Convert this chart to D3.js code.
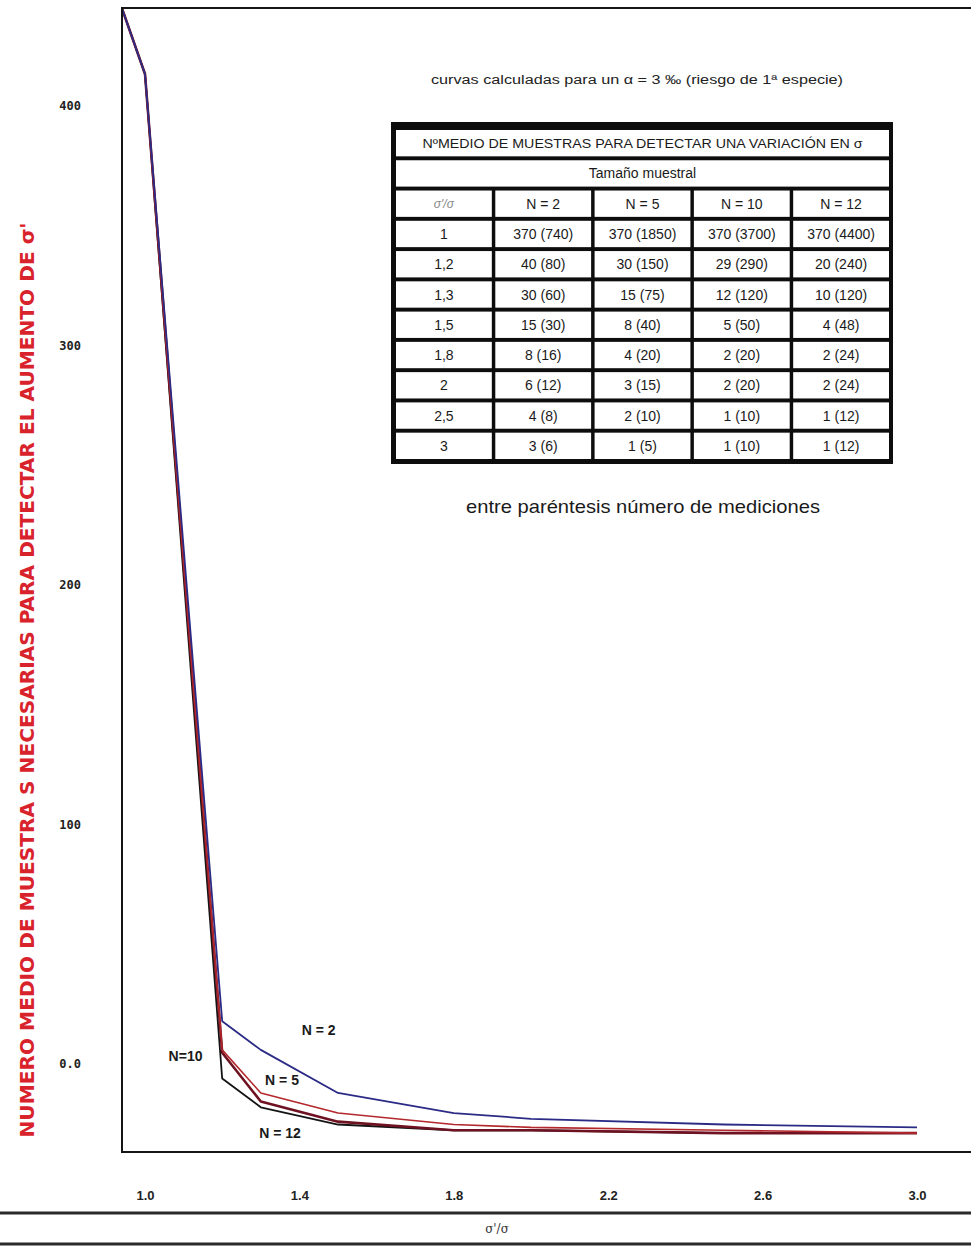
<!DOCTYPE html>
<html>
<head>
<meta charset="utf-8">
<script src="https://cdn.jsdelivr.net/npm/d3@7"></script>
<style>
  body { margin: 0; background: #fff; }
  svg { display: block; }
</style>
</head>
<body>
<div class="chart"></div>
<script>
// table rows (sigma'/sigma) and the four sample sizes
const ratios = [1, 1.2, 1.3, 1.5, 1.8, 2, 2.5, 3]
const ratioLabels = ["1", "1,2", "1,3", "1,5", "1,8", "2", "2,5", "3"]
const sampleSizes = [2, 5, 10, 12]

// mean number of samples
const samplesN2 = [370, 40, 30, 15, 8, 6, 4, 3]
const samplesN5 = [370, 30, 15, 8, 4, 3, 2, 1]
const samplesN10 = [370, 29, 12, 5, 2, 2, 1, 1]
const samplesN12 = [370, 20, 10, 4, 2, 2, 1, 1]

// number of measurements (in brackets)
const measN2 = [740, 80, 60, 30, 16, 12, 8, 6]
const measN5 = [1850, 150, 75, 40, 20, 15, 10, 5]
const measN10 = [3700, 290, 120, 50, 20, 20, 10, 10]
const measN12 = [4400, 240, 120, 48, 24, 24, 12, 12]

// the curves leave the frame at the top-left corner
const curveStartRatio = 0.94
const curveStartValue = 393

const xTicks = [1.0, 1.4, 1.8, 2.2, 2.6, 3.0]
const yTickLabels = [400, 300, 200, 100, 0]

const width = 971
const height = 1247

const series = [
  {n: 12, values: samplesN12, color: "#141414", w: 1.8},
  {n: 10, values: samplesN10, color: "#6e1222", w: 2.6},
  {n: 5, values: samplesN5, color: "#b3282c", w: 1.6},
  {n: 2, values: samplesN2, color: "#2b2b86", w: 1.8}
]
const measures = {2: measN2, 5: measN5, 10: measN10, 12: measN12}
const samples = {2: samplesN2, 5: samplesN5, 10: samplesN10, 12: samplesN12}

const svg = d3.select(".chart").append("svg")
  .attr("width", width)
  .attr("height", height)
  .attr("viewBox", [0, 0, width, height])

let x = d3.scaleLinear()
  .domain([1, 3])
  .range([145, 917])

let y = d3.scaleLinear()
  .domain([0, 370])
  .range([1136, 74])

// the printed y labels don't share the curves' scale
let yLabel = d3.scaleLinear()
  .domain([0, 400])
  .range([1064, 106])

// frame
svg.append("rect")
  .attr("x", 122).attr("y", 8)
  .attr("width", 870).attr("height", 1144)
  .attr("fill", "none")
  .attr("stroke", "#151515")
  .attr("stroke-width", 2)

svg.append("defs").append("clipPath").attr("id", "plot")
  .append("rect").attr("x", 123).attr("y", 9).attr("width", 860).attr("height", 1142)

let line = d3.line()
  .x(d => x(d[0]))
  .y(d => y(d[1]))

svg.append("g")
    .attr("clip-path", "url(#plot)")
    .attr("fill", "none")
  .selectAll("path")
  .data(series)
  .join("path")
    .attr("stroke", d => d.color)
    .attr("stroke-width", d => d.w)
    .attr("stroke-linejoin", "round")
    .attr("d", d => line([[curveStartRatio, curveStartValue]].concat(ratios.map((r, i) => [r, d.values[i]]))))

// curve labels
const curveLabels = [
  {text: "N = 2", r: 1.45, v: 37},
  {text: "N = 5", r: 1.355, v: 19.5},
  {text: "N=10", r: 1.105, v: 28},
  {text: "N = 12", r: 1.35, v: 1}
]
svg.append("g")
    .attr("font-family", "Arial, 'Liberation Sans', sans-serif")
    .attr("font-weight", "bold")
    .attr("font-size", 14)
    .attr("fill", "#1a1a1a")
    .attr("text-anchor", "middle")
  .selectAll("text")
  .data(curveLabels)
  .join("text")
    .attr("x", d => x(d.r))
    .attr("y", d => y(d.v))
    .attr("dy", "0.35em")
    .text(d => d.text)

// y labels
svg.append("g")
    .attr("transform", "translate(81,0)")
    .call(d3.axisLeft(yLabel).tickValues(yTickLabels).tickSize(0).tickPadding(0)
      .tickFormat(d => d === 0 ? "0.0" : d))
    .call(g => g.select(".domain").remove())
    .call(g => g.selectAll("text")
      .attr("font-family", "'DejaVu Sans Mono', monospace")
      .attr("font-weight", "bold")
      .attr("font-size", 12)
      .attr("fill", "#222"))

// x labels
svg.append("g")
    .attr("transform", "translate(0,1191)")
    .call(d3.axisBottom(x).tickValues(xTicks).tickSize(0).tickPadding(0)
      .tickFormat(d3.format(".1f")))
    .call(g => g.select(".domain").remove())
    .call(g => g.selectAll("text")
      .attr("font-family", "Arial, 'Liberation Sans', sans-serif")
      .attr("font-weight", "bold")
      .attr("font-size", 13)
      .attr("fill", "#222"))

// bottom rules and x title
svg.append("g")
    .attr("stroke", "#2a2a2a")
    .attr("stroke-width", 3)
  .selectAll("line")
  .data([1213, 1244])
  .join("line")
    .attr("x1", 0).attr("x2", width)
    .attr("y1", d => d).attr("y2", d => d)

svg.append("text")
  .attr("x", 497).attr("y", 1233)
  .attr("text-anchor", "middle")
  .attr("font-family", "'DejaVu Serif', serif")
  .attr("font-size", 12)
  .attr("fill", "#333")
  .text("σ'/σ")

// y title
svg.append("text")
  .attr("transform", "translate(34,680) rotate(-90)")
  .attr("text-anchor", "middle")
  .attr("font-family", "'Liberation Sans Narrow', 'DejaVu Sans Condensed', Arial, sans-serif")
  .attr("font-weight", "bold")
  .attr("font-size", 19)
  .attr("fill", "#d9232c")
  .attr("textLength", 915)
  .attr("lengthAdjust", "spacingAndGlyphs")
  .text("NUMERO MEDIO DE MUESTRA S NECESARIAS PARA DETECTAR EL AUMENTO DE σ'")

// note above the table
svg.append("text")
  .attr("x", 637).attr("y", 84)
  .attr("text-anchor", "middle")
  .attr("font-family", "Arial, 'Liberation Sans', sans-serif")
  .attr("font-size", 12)
  .attr("fill", "#222")
  .attr("textLength", 412)
  .attr("lengthAdjust", "spacingAndGlyphs")
  .text("curvas calculadas para un α = 3 ‰ (riesgo de 1ª especie)")

// table
const rowKeys = ["title", "sub", "head"].concat(ratioLabels)
const colKeys = ["ratio"].concat(sampleSizes.map(n => "N" + n))

let row = d3.scaleBand()
  .domain(rowKeys)
  .range([130, 459])
  .paddingInner(0.13)

let col = d3.scaleBand()
  .domain(colKeys)
  .range([396, 889])
  .paddingInner(0.035)

const table = svg.append("g")
  .attr("font-family", "Arial, 'Liberation Sans', sans-serif")
  .attr("fill", "#1a1a1a")
  .attr("text-anchor", "middle")

table.append("rect")
  .attr("x", 391).attr("y", 122)
  .attr("width", 502).attr("height", 342)
  .attr("fill", "#0d0d0d")

let cells = []
cells.push({r: "title", c0: "ratio", c1: "N12", text: "NºMEDIO DE MUESTRAS PARA DETECTAR UNA VARIACIÓN EN σ", len: 440, size: 13})
cells.push({r: "sub", c0: "ratio", c1: "N12", text: "Tamaño muestral", size: 14})
cells.push({r: "head", c0: "ratio", c1: "ratio", text: "σ'/σ", size: 12, color: "#888", italic: true})
sampleSizes.forEach(n => cells.push({r: "head", c0: "N" + n, c1: "N" + n, text: "N = " + n, size: 14}))
ratioLabels.forEach((lab, i) => {
  cells.push({r: lab, c0: "ratio", c1: "ratio", text: lab, size: 14})
  sampleSizes.forEach(n => cells.push({
    r: lab, c0: "N" + n, c1: "N" + n,
    text: samples[n][i] + " (" + measures[n][i] + ")", size: 14
  }))
})

table.selectAll("rect.cell")
  .data(cells)
  .join("rect")
    .attr("class", "cell")
    .attr("x", d => col(d.c0))
    .attr("y", d => row(d.r))
    .attr("width", d => col(d.c1) + col.bandwidth() - col(d.c0))
    .attr("height", row.bandwidth())
    .attr("fill", "#fff")

table.selectAll("text")
  .data(cells)
  .join("text")
    .attr("x", d => (col(d.c0) + col(d.c1) + col.bandwidth()) / 2)
    .attr("y", d => row(d.r) + row.bandwidth() / 2)
    .attr("dy", "0.36em")
    .attr("font-size", d => d.size)
    .attr("font-style", d => d.italic ? "italic" : null)
    .attr("fill", d => d.color || null)
    .attr("textLength", d => d.len || null)
    .attr("lengthAdjust", d => d.len ? "spacingAndGlyphs" : null)
    .text(d => d.text)

svg.append("text")
  .attr("x", 643).attr("y", 513)
  .attr("text-anchor", "middle")
  .attr("font-family", "Arial, 'Liberation Sans', sans-serif")
  .attr("font-size", 19)
  .attr("fill", "#1a1a1a")
  .attr("textLength", 354)
  .attr("lengthAdjust", "spacingAndGlyphs")
  .text("entre paréntesis número de mediciones")
</script>
</body>
</html>
